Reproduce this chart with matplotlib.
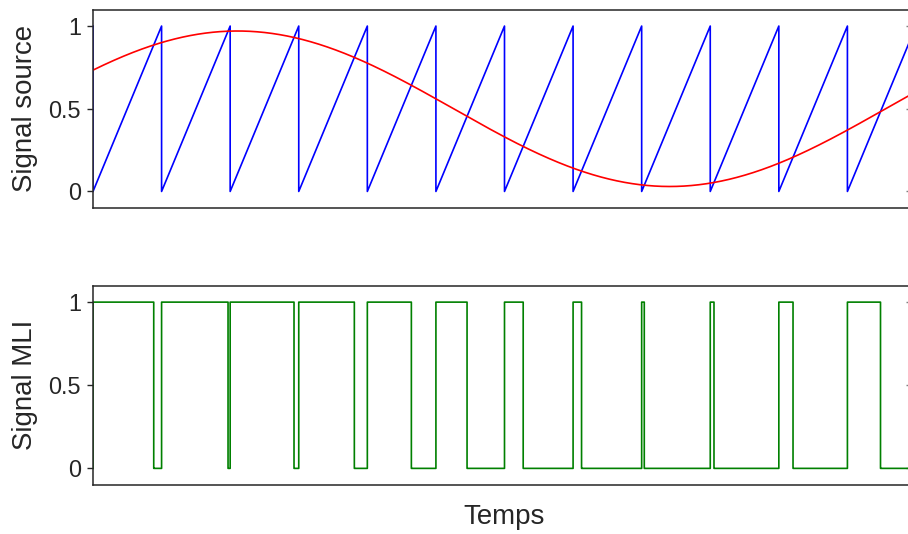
import numpy as np
import matplotlib
matplotlib.use("Agg")
import matplotlib.pyplot as plt

plt.rcParams['font.family'] = ['Liberation Sans', 'DejaVu Sans']

# Carrier (sawtooth) and modulating sine parameters
n_periods = 12            # number of sawtooth periods on the time axis
sine_offset = 0.5
sine_amplitude = 0.47
sine_period = 12.6        # in carrier periods
sine_phase = 0.52         # rad

y_ticks = [0, 0.5, 1]
y_ticklabels = ['0', '0.5', '1']
ylabel_top = 'Signal source'
ylabel_bottom = 'Signal MLI'
xlabel = 'Temps'

text_col = '#262626'

# Sawtooth vertices: ramp 0 -> 1 over each period, vertical reset at each integer
saw_t = [0.0]
saw_v = [1.0]
for k in range(n_periods):
    saw_t += [k, k + 1]
    saw_v += [0.0, 1.0]
saw_t = np.array(saw_t)
saw_v = np.array(saw_v)

# Modulating sine on a fine time grid
t = np.linspace(0, n_periods, 24001)
sine = sine_offset + sine_amplitude * np.sin(2 * np.pi * t / sine_period + sine_phase)

# PWM: high while the carrier is below the modulating signal
carrier = np.mod(t, 1.0)
pwm = (carrier < sine).astype(float)
pwm_t = np.concatenate([[0.0], t])
pwm_v = np.concatenate([[0.0], pwm])

fig = plt.figure(figsize=(9.08, 5.34), dpi=100)
W, H = 908, 534
left_px, right_px = 93, 916


def make_axes(top_px, bottom_px):
    ax = fig.add_axes([left_px / W, 1 - bottom_px / H,
                       (right_px - left_px) / W, (bottom_px - top_px) / H])
    ax.set_xlim(0, n_periods)
    ax.set_ylim(-0.1, 1.1)
    ax.set_xticks([])
    ax.set_yticks(y_ticks)
    ax.set_yticklabels(y_ticklabels)
    ax.tick_params(axis='y', direction='out', length=4.3, width=1.0,
                   colors=text_col, labelsize=16.9, pad=4.3)
    for s in ax.spines.values():
        s.set_color(text_col)
        s.set_linewidth(1.1)
    sec = ax.secondary_yaxis('right')
    sec.set_yticks(y_ticks)
    sec.tick_params(direction='in', length=7, width=1.0, colors='#808080',
                    labelright=False)
    return ax


ax1 = make_axes(9.5, 208)
ax1.plot(saw_t, saw_v, color='#0000ff', lw=1.2)
ax1.plot(t, sine, color='#ff0000', lw=1.2)
ax1.set_ylabel(ylabel_top, fontsize=19.9, color=text_col)
ax1.yaxis.set_label_coords(-0.067, 0.5)

ax2 = make_axes(285.5, 485)
ax2.plot(pwm_t, pwm_v, color='#008000', lw=1.2, drawstyle='steps-post')
ax2.set_ylabel(ylabel_bottom, fontsize=19.9, color=text_col)
ax2.yaxis.set_label_coords(-0.067, 0.5)
ax2.set_xlabel(xlabel, fontsize=19.9, color=text_col, labelpad=14)

fig.savefig('out.png', dpi=100)
